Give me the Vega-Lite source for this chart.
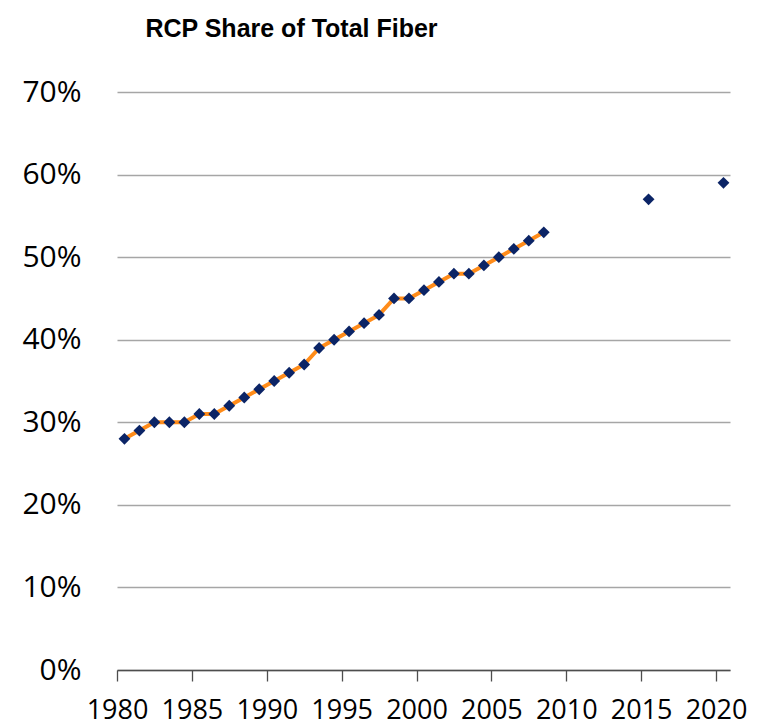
{
  "$schema": "https://vega.github.io/schema/vega-lite/v6.json",
  "width": 613,
  "height": 578,
  "autosize": {"type": "none"},
  "padding": {"left": 117, "top": 92, "right": 35, "bottom": 55},
  "background": "white",
  "title": {
    "text": "RCP Share of Total Fiber",
    "font": "Liberation Sans",
    "fontSize": 25,
    "fontWeight": "bold",
    "color": "#000000",
    "anchor": "middle",
    "dx": -132,
    "baseline": "alphabetic",
    "offset": 15
  },
  "data": {
    "values": [
      {"date": "1980-07-01", "share": 0.28},
      {"date": "1981-07-01", "share": 0.29},
      {"date": "1982-07-01", "share": 0.30},
      {"date": "1983-07-01", "share": 0.30},
      {"date": "1984-07-01", "share": 0.30},
      {"date": "1985-07-01", "share": 0.31},
      {"date": "1986-07-01", "share": 0.31},
      {"date": "1987-07-01", "share": 0.32},
      {"date": "1988-07-01", "share": 0.33},
      {"date": "1989-07-01", "share": 0.34},
      {"date": "1990-07-01", "share": 0.35},
      {"date": "1991-07-01", "share": 0.36},
      {"date": "1992-07-01", "share": 0.37},
      {"date": "1993-07-01", "share": 0.39},
      {"date": "1994-07-01", "share": 0.40},
      {"date": "1995-07-01", "share": 0.41},
      {"date": "1996-07-01", "share": 0.42},
      {"date": "1997-07-01", "share": 0.43},
      {"date": "1998-07-01", "share": 0.45},
      {"date": "1999-07-01", "share": 0.45},
      {"date": "2000-07-01", "share": 0.46},
      {"date": "2001-07-01", "share": 0.47},
      {"date": "2002-07-01", "share": 0.48},
      {"date": "2003-07-01", "share": 0.48},
      {"date": "2004-07-01", "share": 0.49},
      {"date": "2005-07-01", "share": 0.50},
      {"date": "2006-07-01", "share": 0.51},
      {"date": "2007-07-01", "share": 0.52},
      {"date": "2008-07-01", "share": 0.53},
      {"date": "2015-07-01", "share": 0.57},
      {"date": "2020-07-01", "share": 0.59}
    ]
  },
  "encoding": {
    "x": {
      "field": "date",
      "type": "temporal",
      "scale": {
        "type": "utc",
        "domain": [
          {"year": 1980, "month": 1, "date": 1, "utc": true},
          {"year": 2020, "month": 12, "date": 7, "utc": true}
        ]
      },
      "axis": {
        "title": null,
        "format": "%Y",
        "formatType": "utc",
        "values": [
          {"year": 1980, "month": 1, "date": 1, "utc": true},
          {"year": 1985, "month": 1, "date": 1, "utc": true},
          {"year": 1990, "month": 1, "date": 1, "utc": true},
          {"year": 1995, "month": 1, "date": 1, "utc": true},
          {"year": 2000, "month": 1, "date": 1, "utc": true},
          {"year": 2005, "month": 1, "date": 1, "utc": true},
          {"year": 2010, "month": 1, "date": 1, "utc": true},
          {"year": 2015, "month": 1, "date": 1, "utc": true},
          {"year": 2020, "month": 1, "date": 1, "utc": true}
        ],
        "grid": false,
        "domain": true,
        "domainColor": "#4d4d4d",
        "domainWidth": 1.3,
        "ticks": true,
        "tickColor": "#4d4d4d",
        "tickWidth": 1.3,
        "tickSize": 11,
        "labelFont": "Open Sans",
        "labelFontSize": 27,
        "labelColor": "#000000",
        "labelPadding": 16,
        "labelOverlap": false,
        "labelFlush": false
      }
    },
    "y": {
      "field": "share",
      "type": "quantitative",
      "scale": {"domain": [0, 0.7], "nice": false, "zero": true},
      "axis": {
        "title": null,
        "format": ".0%",
        "values": [0, 0.1, 0.2, 0.3, 0.4, 0.5, 0.6, 0.7],
        "domain": false,
        "ticks": false,
        "grid": true,
        "gridColor": "#a6a6a6",
        "gridWidth": 1.3,
        "labelFont": "Open Sans",
        "labelFontSize": 30,
        "labelColor": "#000000",
        "labelPadding": 36
      }
    }
  },
  "layer": [
    {
      "transform": [{"filter": "year(datum.date) <= 2008"}],
      "mark": {"type": "line", "color": "#ff8c1a", "strokeWidth": 4}
    },
    {
      "mark": {
        "type": "point",
        "shape": "diamond",
        "filled": true,
        "size": 140,
        "color": "#0b2466",
        "opacity": 1
      }
    }
  ],
  "config": {
    "view": {"stroke": null}
  }
}
